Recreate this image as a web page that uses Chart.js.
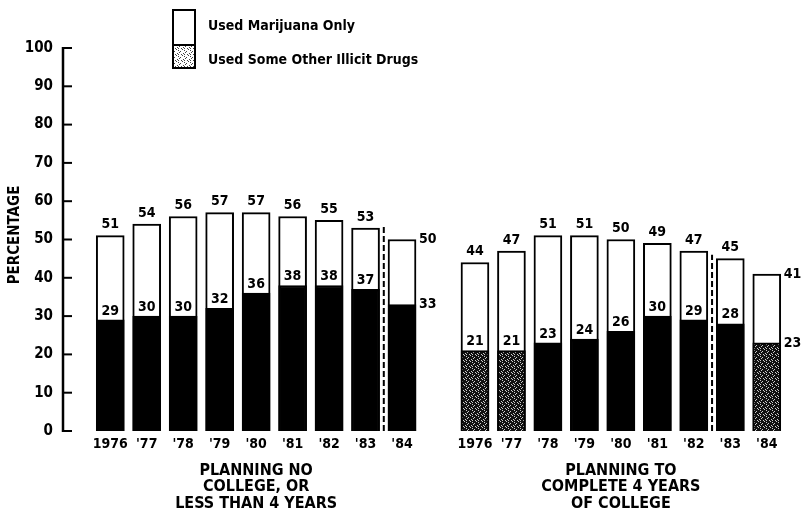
<!DOCTYPE html>
<html>
<head>
<meta charset="utf-8">
<script src="https://cdn.jsdelivr.net/npm/chart.js@4.4.1/dist/chart.umd.min.js"></script>
<style>
  html, body { margin: 0; padding: 0; background: #fff; }
  #wrap { width: 808px; height: 517px; position: relative; }
</style>
</head>
<body>
<div id="wrap"><canvas id="drugChart"></canvas></div>
<script>
const years = ['1976', "'77", "'78", "'79", "'80", "'81", "'82", "'83", "'84"];
const noCollegeTotal = [51, 54, 56, 57, 57, 56, 55, 53, 50];
const noCollegeOther = [29, 30, 30, 32, 36, 38, 38, 37, 33];
const collegeTotal = [44, 47, 51, 51, 50, 49, 47, 45, 41];
const collegeOther = [21, 21, 23, 24, 26, 30, 29, 28, 23];
const yTicks = [0, 10, 20, 30, 40, 50, 60, 70, 80, 90, 100];
const groupTitles = [
    ['PLANNING NO', 'COLLEGE, OR', 'LESS THAN 4 YEARS'],
    ['PLANNING TO', 'COMPLETE 4 YEARS', 'OF COLLEGE']
];
const legendLabels = ['Used Marijuana Only', 'Used Some Other Illicit Drugs'];
const yTitle = 'PERCENTAGE';

// one empty slot between the two groups
const labels = years.concat([''], years);
const totals = noCollegeTotal.concat([null], collegeTotal);
const others = noCollegeOther.concat([null], collegeOther);
const groupRow = labels.map((l, i) => i === 4 ? groupTitles[0] : (i === 14 ? groupTitles[1] : ''));
const lastOfGroup = [8, 18];
const stippled = [10, 11, 18];

const FONT = "'DejaVu Sans Condensed', 'DejaVu Sans', sans-serif";

const canvas = document.getElementById('drugChart');
const ctx = canvas.getContext('2d');

function makePattern(bg, fg) {
    const c = document.createElement('canvas');
    c.width = 6; c.height = 6;
    const g = c.getContext('2d');
    g.fillStyle = bg; g.fillRect(0, 0, 6, 6);
    g.fillStyle = fg;
    [[1, 0], [4, 2], [0, 3], [3, 5], [5, 4], [2, 1], [4, 0]].forEach(p => g.fillRect(p[0], p[1], 1, 1));
    return ctx.createPattern(c, 'repeat');
}
const darkStipple = makePattern('#111', '#ccc');
const lightStipple = makePattern('#fff', '#444');

const otherColors = labels.map((l, i) => stippled.includes(i) ? darkStipple : '#000');

const decor = {
    id: 'decor',
    afterDraw(chart) {
        const c = chart.ctx;
        const y = chart.scales.y;
        const x = chart.scales.x;
        c.save();
        // y axis line with inward ticks
        c.strokeStyle = '#000';
        c.lineWidth = 2.5;
        c.beginPath();
        c.moveTo(63, y.getPixelForValue(0) + 1);
        c.lineTo(63, y.getPixelForValue(100) - 1);
        c.stroke();
        c.lineWidth = 2;
        yTicks.forEach(v => {
            const py = y.getPixelForValue(v);
            c.beginPath();
            c.moveTo(63, py);
            c.lineTo(72, py);
            c.stroke();
        });

        // y title
        c.fillStyle = '#000';
        c.font = 'bold 15px ' + FONT;
        c.translate(15, 235);
        c.rotate(-Math.PI / 2);
        c.textAlign = 'center';
        c.textBaseline = 'middle';
        c.fillText(yTitle, 0, 0);
        c.setTransform(1, 0, 0, 1, 0, 0);

        // dashed separators before '84
        c.lineWidth = 2;
        c.setLineDash([6, 3]);
        [[7, 54], [16, 46]].forEach(([i, top]) => {
            const px = (x.getPixelForValue(i) + x.getPixelForValue(i + 1)) / 2;
            c.beginPath();
            c.moveTo(px, y.getPixelForValue(0));
            c.lineTo(px, y.getPixelForValue(top));
            c.stroke();
        });
        c.setLineDash([]);

        // legend
        c.lineWidth = 2;
        c.fillStyle = '#fff';
        c.fillRect(173, 10, 22, 35);
        c.strokeRect(173, 10, 22, 35);
        c.fillStyle = lightStipple;
        c.fillRect(173, 45, 22, 23);
        c.strokeRect(173, 45, 22, 23);
        c.fillStyle = '#000';
        c.font = 'bold 14px ' + FONT;
        c.textAlign = 'left';
        c.textBaseline = 'middle';
        c.fillText(legendLabels[0], 208, 26);
        c.fillText(legendLabels[1], 208, 60);

        // value labels
        c.font = 'bold 14px ' + FONT;
        [0, 1].forEach(d => {
            const meta = chart.getDatasetMeta(d);
            const vals = chart.data.datasets[d].data;
            meta.data.forEach((bar, i) => {
                if (vals[i] == null) return;
                if (lastOfGroup.includes(i)) {
                    c.textAlign = 'left';
                    c.fillText(vals[i], bar.x + bar.width / 2 + 3, bar.y);
                } else {
                    c.textAlign = 'center';
                    c.fillText(vals[i], bar.x, bar.y - (d === 1 ? 11 : 9));
                }
            });
        });
        c.restore();
    }
};

new Chart(ctx, {
    type: 'bar',
    data: {
        labels: labels,
        datasets: [
            {
                label: legendLabels[1],
                data: others,
                backgroundColor: otherColors,
                borderColor: '#000',
                borderWidth: 2,
                barThickness: 28,
                grouped: false
            },
            {
                label: legendLabels[0],
                data: totals,
                backgroundColor: '#fff',
                borderColor: '#000',
                borderWidth: 2,
                barThickness: 28,
                grouped: false
            }
        ]
    },
    options: {
        responsive: true,
        maintainAspectRatio: false,
        animation: false,
        layout: { padding: { top: 13, right: 23, left: 0, bottom: 0 } },
        plugins: {
            legend: { display: false },
            tooltip: { enabled: false }
        },
        scales: {
            x: {
                type: 'category',
                offset: true,
                grid: { display: false, drawTicks: false },
                border: { display: false },
                ticks: {
                    autoSkip: false, maxRotation: 0, minRotation: 0, padding: 5,
                    color: '#000',
                    font: { family: FONT, size: 14, weight: 'bold' }
                },
                afterFit: s => { s.height = 24; }
            },
            x2: {
                type: 'category',
                labels: groupRow,
                position: 'bottom',
                offset: true,
                grid: { display: false, drawTicks: false },
                border: { display: false },
                ticks: {
                    autoSkip: false, maxRotation: 0, minRotation: 0, padding: 7,
                    color: '#000',
                    font: { family: FONT, size: 16, weight: 'bold', lineHeight: 1.05 }
                },
                afterFit: s => { s.height = 62; }
            },
            y: {
                min: 0,
                max: 100,
                grid: { display: false, drawTicks: false },
                border: { display: false },
                ticks: {
                    padding: 39,
                    color: '#000',
                    font: { family: FONT, size: 15, weight: 'bold' }
                },
                afterBuildTicks: s => { s.ticks = yTicks.map(v => ({ value: v })); },
                afterFit: s => { s.width = 92; }
            }
        }
    },
    plugins: [decor]
});
</script>
</body>
</html>
